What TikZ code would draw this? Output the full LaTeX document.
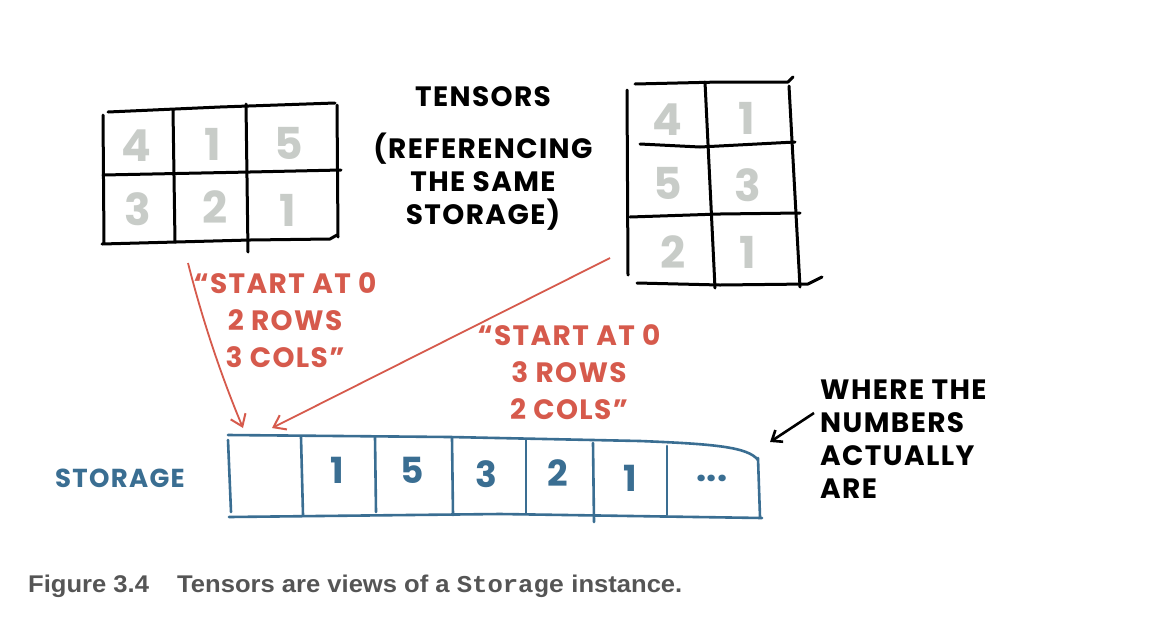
\documentclass[tikz,border=0pt]{standalone}
\usepackage{fontspec}
\setmainfont{Poppins}
\newfontfamily\capfont{Liberation Sans}
\newfontfamily\capmono{Liberation Mono}
\usetikzlibrary{arrows.meta}
\definecolor{inkred}{HTML}{D65A4C}
\definecolor{inkblue}{HTML}{3A6E92}
\definecolor{gridgray}{HTML}{C8CCC8}
\definecolor{capgray}{HTML}{555555}
\newcommand\handfont[2]{\fontsize{#1}{#2}\selectfont\bfseries\addfontfeatures{LetterSpace=5}}
\tikzset{
  sketch/.style={line width=3pt, line cap=round, line join=round, black},
  bluestroke/.style={line width=2.6pt, line cap=round, line join=round, inkblue},
  celldigit/.style={font=\fontsize{44}{44}\selectfont\bfseries, text=gridgray, inner sep=0pt},
  storedigit/.style={font=\fontsize{36}{36}\selectfont\bfseries, text=inkblue, inner sep=0pt},
  blacknote/.style={font=\handfont{28}{33}, text=black, inner sep=0pt, align=center},
  rednote/.style={font=\handfont{28}{37}, text=inkred, inner sep=0pt, align=center},
  rightnote/.style={font=\handfont{28}{33}, text=black, inner sep=0pt, align=left},
  redarrow/.style={line width=1.8pt, inkred, -{Straight Barb[length=11pt,width=16pt,line width=2pt]}},
  blackarrow/.style={line width=2.6pt, black, -{Straight Barb[length=9pt,width=14pt,line width=2.6pt]}}
}
\begin{document}
\begin{tikzpicture}[x=1pt,y=-1pt]
\useasboundingbox (0,0) rectangle (1152,638);
\fill[white] (0,0) rectangle (1152,638);

% ---------- left tensor (2 x 3) ----------
\draw[sketch] (108,112) -- (220,107) -- (335,103);
\draw[sketch] (103,115) -- (104,243);
\draw[sketch] (173,110) -- (175,242);
\draw[sketch] (246,104) -- (248,252);
\draw[sketch] (337,105) -- (338,237);
\draw[sketch] (103,175) -- (250,172) -- (341,170);
\draw[sketch] (102,244) -- (250,240) -- (330,239) -- (337,235);
\node[celldigit] (la) at (136,146) {4};
\node[celldigit] (lb) at (213,144) {1};
\node[celldigit] (lc) at (289,143) {5};
\node[celldigit] (ld) at (138,209) {3};
\node[celldigit] (le) at (215,207) {2};
\node[celldigit] (lf) at (288,210) {1};

% ---------- right tensor (3 x 2) ----------
\draw[sketch] (635,84) -- (720,82) -- (788,82) -- (793,77);
\draw[sketch] (627,90) -- (628,275);
\draw[sketch] (705,82) -- (715,288);
\draw[sketch] (789,86) -- (800,287);
\draw[sketch] (640,144) -- (700,147) -- (795,142);
\draw[sketch] (630,217) -- (720,214) -- (800,213);
\draw[sketch] (637,283) -- (720,285) -- (808,284) -- (822,277);
\node[celldigit] (ra) at (667,120) {4};
\node[celldigit] (rb) at (747,118) {1};
\node[celldigit] (rc) at (668,183) {5};
\node[celldigit] (rd) at (748,185) {3};
\node[celldigit] (re) at (673,252) {2};
\node[celldigit] (rf) at (748,252) {1};

% ---------- title text ----------
\node[blacknote] (tensors) at (483,97) {TENSORS};
\node[blacknote] (refer) at (483,182) {(REFERENCING\\THE SAME\\STORAGE)};

% ---------- storage ----------
\node[font=\handfont{26}{26}, text=inkblue, inner sep=0pt] (storlabel) at (120,478) {STORAGE};
\draw[bluestroke] (228,435) -- (450,437) -- (640,441) .. controls (715,444) and (748,447) .. (758,460);
\draw[bluestroke] (228,440) -- (231,512);
\draw[bluestroke] (229,517) -- (500,514) -- (762,518);
\draw[bluestroke] (758,458) -- (760,517);
\draw[bluestroke] (301,437) -- (303,515);
\draw[bluestroke] (375,437) -- (376,512);
\draw[bluestroke] (452,438) -- (453,515);
\draw[bluestroke] (526,439) -- (526,513);
\draw[bluestroke] (593,443) -- (594,522);
\draw[bluestroke] (667,446) -- (667,515);
\node[inner sep=0pt, minimum size=4pt] (s0) at (265,475) {};
\node[storedigit] (s1) at (337,470) {1};
\node[storedigit] (s2) at (412,470) {5};
\node[storedigit] (s3) at (486,474) {3};
\node[storedigit] (s4) at (558,473) {2};
\node[storedigit] (s5) at (630,478) {1};
\node[storedigit] (s6) at (712,478) {...};
\coordinate (tipA) at (243,428);
\coordinate (tipB) at (272,428);
\coordinate (corner) at (770,442);

% ---------- red notes and arrows ----------
\node[rednote] (noteA) at (285,320) {“START AT 0\\2 ROWS\\3 COLS”};
\node[rednote] (noteB) at (569,372) {“START AT 0\\3 ROWS\\2 COLS”};
\coordinate (fromA) at (188,263);
\coordinate (fromB) at (610,258);
\draw[redarrow] (fromA) .. controls (205,330) and (225,385) .. (tipA);
\draw[redarrow] (fromB) -- (tipB);

% ---------- right note ----------
\node[rightnote, anchor=north west] (where) at (820,380) {WHERE THE\\NUMBERS\\ACTUALLY\\ARE};
\coordinate (wfrom) at (814,413);
\draw[blackarrow] (wfrom) -- (corner);

% ---------- caption ----------
\node[anchor=base west, inner sep=0pt, text=capgray] (caption) at (28,592)
  {\resizebox{654pt}{17.5pt}{\capfont\bfseries Figure 3.4\hspace{1.1em}Tensors are views of a {\capmono\bfseries Storage} instance.}};
\end{tikzpicture}
\end{document}
